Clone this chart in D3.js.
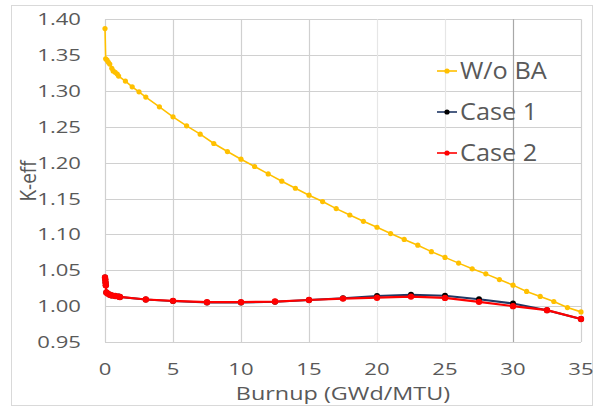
<!doctype html>
<html>
<head>
<meta charset="utf-8"/>
<style>
  html, body { margin: 0; padding: 0; background: #fff; }
  svg { display: block; }
  text { font-family: "Open Sans", sans-serif; fill: #595959; }
</style>
<script src="https://d3js.org/d3.v7.min.js"></script>
</head>
<body>
<svg id="chart" width="601" height="407"></svg>
<script>
// burnup points (GWd/MTU) and k-eff
var burnupNoBA = [0, 0.05, 0.15, 0.25, 0.35, 0.5, 0.6, 0.75, 0.9, 1.0, 1.5, 2, 2.5, 3,
  4, 5, 6, 7, 8, 9, 10, 11, 12, 13, 14, 15, 16, 17, 18, 19, 20,
  21, 22, 23, 24, 25, 26, 27, 28, 29, 30, 31, 32, 33, 34, 35];
var keffNoBA = [1.387, 1.345, 1.343, 1.340, 1.3376, 1.3316, 1.328, 1.326, 1.3236, 1.3208, 1.3138, 1.3059, 1.2989, 1.2915,
  1.278, 1.264, 1.2514, 1.2398, 1.2268, 1.2156, 1.2049, 1.1947, 1.1844, 1.1742, 1.1644, 1.1547, 1.1458, 1.136, 1.1271, 1.1183, 1.110,
  1.1012, 1.093, 1.085, 1.076, 1.068, 1.060, 1.052, 1.045, 1.037, 1.0293, 1.0205, 1.0135, 1.0065, 0.998, 0.992];

var burnupCase = [0, 0.02, 0.04, 0.06, 0.1, 0.2, 0.35, 0.5, 0.75, 1.0, 1.1,
  3, 5, 7.5, 10, 12.5, 15, 17.5, 20, 22.5, 25, 27.5, 30, 32.5, 35];
var keffCase1 = [1.040, 1.037, 1.033, 1.029, 1.019, 1.0175, 1.016, 1.015, 1.0142, 1.0133, 1.0128,
  1.0093, 1.0070, 1.0052, 1.0050, 1.0060, 1.0084, 1.0110, 1.0140, 1.0158, 1.0145, 1.0095, 1.0037, 0.9944, 0.982];
var keffCase2 = [1.040, 1.037, 1.033, 1.029, 1.019, 1.0175, 1.016, 1.015, 1.0142, 1.0133, 1.0128,
  1.0093, 1.0074, 1.0056, 1.0056, 1.0064, 1.0086, 1.0105, 1.0118, 1.0133, 1.0115, 1.0060, 1.0000, 0.9944, 0.982];

var xTicks = [0, 5, 10, 15, 20, 25, 30, 35];
var yTicks = [0.95, 1.00, 1.05, 1.10, 1.15, 1.20, 1.25, 1.30, 1.35, 1.40];

var seriesNames = ["W/o BA", "Case 1", "Case 2"];
var lineColors = ["#ffc000", "#203864", "#ff0000"];
var markColors = ["#ffc000", "#000000", "#ff0000"];

var svg = d3.select("#chart");
var sx = 1.3; // the picture is stretched sideways, so the text is too

var x = d3.scaleLinear().domain([0, 35]).range([105, 581]);
var y = d3.scaleLinear().domain([0.95, 1.40]).range([342, 19.3]);

// chart border
svg.append("rect")
  .attr("x", 11.5).attr("y", 5.5).attr("width", 581).attr("height", 400)
  .attr("fill", "none").attr("stroke", "#d9d9d9");

// gridlines
svg.append("g").selectAll("line").data(yTicks).enter().append("line")
  .attr("x1", x(0)).attr("x2", x(35))
  .attr("y1", function(d) { return Math.round(y(d)) + 0.5; })
  .attr("y2", function(d) { return Math.round(y(d)) + 0.5; })
  .attr("stroke", "#d0d0d0").attr("stroke-width", 1.2);

svg.append("g").selectAll("line").data(xTicks).enter().append("line")
  .attr("y1", y(0.95)).attr("y2", y(1.40))
  .attr("x1", function(d) { return Math.round(x(d)) + 0.5; })
  .attr("x2", function(d) { return Math.round(x(d)) + 0.5; })
  .attr("stroke", function(d) { return d === 30 ? "#a8a8a8" : (d === 20 || d === 25 ? "#e6e6e6" : "#d0d0d0"); })
  .attr("stroke-width", 1.2);

// tick labels
svg.append("g").selectAll("text").data(yTicks).enter().append("text")
  .attr("transform", function(d) { return "translate(81," + (y(d) + 6) + ") scale(" + sx + ",1)"; })
  .attr("text-anchor", "end")
  .style("font-size", "17px")
  .text(function(d) { return d3.format(".2f")(d); });

svg.append("g").selectAll("text").data(xTicks).enter().append("text")
  .attr("transform", function(d) { return "translate(" + x(d) + ",375) scale(" + sx + ",1)"; })
  .attr("text-anchor", "middle")
  .style("font-size", "17px")
  .text(function(d) { return d; });

// axis titles
svg.append("text")
  .attr("transform", "translate(" + x(17.5) + ",400) scale(" + sx + ",1)")
  .attr("text-anchor", "middle")
  .style("font-size", "18px")
  .text("Burnup (GWd/MTU)");

svg.append("text")
  .attr("transform", "translate(36,181) rotate(-90) scale(1,1.15)")
  .attr("text-anchor", "middle")
  .style("font-size", "19px")
  .text("K-eff");

// series
var series = [
  { xs: burnupNoBA, ys: keffNoBA, r: 2.6, w: 1.6 },
  { xs: burnupCase, ys: keffCase1, r: 3, w: 2 },
  { xs: burnupCase, ys: keffCase2, r: 3.2, w: 2.2 }
];

var line = d3.line()
  .x(function(d) { return x(d[0]); })
  .y(function(d) { return y(d[1]); });

series.forEach(function(s, i) {
  var pts = s.xs.map(function(b, j) { return [b, s.ys[j]]; });
  var g = svg.append("g");
  g.append("path")
    .attr("d", line(pts))
    .attr("fill", "none")
    .attr("stroke", lineColors[i])
    .attr("stroke-width", s.w);
  g.selectAll("circle").data(pts).enter().append("circle")
    .attr("cx", function(d) { return x(d[0]); })
    .attr("cy", function(d) { return y(d[1]); })
    .attr("r", s.r)
    .attr("fill", markColors[i]);
});

// legend
var legendY = [71, 112, 153];
var leg = svg.append("g").selectAll("g").data(seriesNames).enter().append("g")
  .attr("transform", function(d, i) { return "translate(437," + legendY[i] + ")"; });
leg.append("line")
  .attr("x1", 0).attr("x2", 20)
  .attr("stroke", function(d, i) { return lineColors[i]; })
  .attr("stroke-width", 1.6);
leg.append("circle")
  .attr("cx", 10).attr("r", 2.6)
  .attr("fill", function(d, i) { return markColors[i]; });
leg.append("text")
  .attr("transform", "translate(23,8) scale(1.1,1)")
  .style("font-size", "23px")
  .text(function(d) { return d; });
</script>
</body>
</html>
